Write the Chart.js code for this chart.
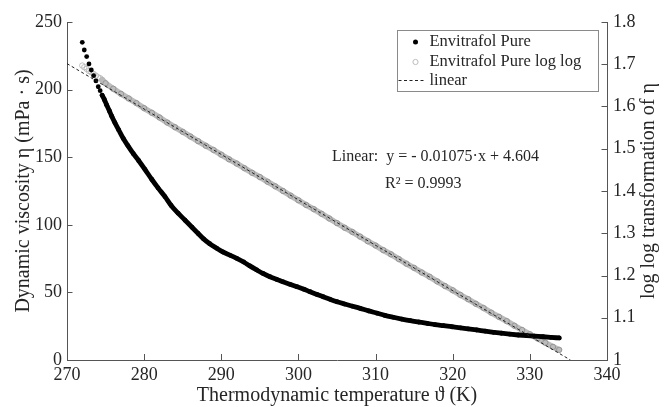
<!DOCTYPE html>
<html><head><meta charset="utf-8">
<script src="https://cdn.jsdelivr.net/npm/chart.js@4.4.1/dist/chart.umd.min.js"></script>
<style>html,body{margin:0;padding:0;background:#fff;}#wrap{width:669px;height:407px;}</style>
</head><body><div id="wrap"><canvas id="c" width="669" height="407"></canvas></div>
<script>
// ---- data ----
const temperature = [271.98,272.24,272.55,272.85,273.15,273.45,273.75,274.05,274.30,274.56,
  274.85,275.15,275.5,275.8,276.2,276.7,277.3,277.9,278.6,279.3,280.1,281.0,281.8,282.7,283.5,284.4,
  285.3,286.2,287.0,287.7,288.5,289.4,290.2,291.1,292.0,292.9,293.7,294.6,295.4,296.3,297.2,298.0,
  298.9,299.8,300.7,301.5,302.4,303.2,304.1,305.0,306.0,307.0,308.0,309.1,310.2,311.2,312.3,313.4,
  314.5,315.6,316.7,317.7,318.8,319.9,321.0,322.0,323.1,324.2,325.3,326.3,327.4,328.5,329.6,330.6,
  331.7,332.7,333.8];
const viscosity = [235.0,229.3,224.4,219.0,214.5,210.3,206.4,202.1,199.2,195.8,
  192.5,188.5,184.2,180.3,175.6,170.2,163.8,158.5,152.6,147.4,141.0,133.5,127.3,120.8,114.3,108.6,
  103.4,98.2,93.6,89.6,86.0,82.7,79.9,77.6,75.2,72.5,69.6,66.6,64.0,61.6,59.6,57.8,
  56.0,54.2,52.4,50.5,48.5,46.8,44.9,43.1,41.4,39.8,38.2,36.3,34.6,33.0,31.6,30.3,
  29.1,28.1,27.1,26.2,25.4,24.6,23.8,23.0,22.2,21.3,20.5,19.8,19.1,18.5,18.0,17.6,
  17.2,16.8,16.3];
const logTemperature = [271.98,272.24,272.55,272.85,273.15,273.45,273.75,274.05,274.30,274.56,
  275,276,277,278,279,280,281,282,283,284,285,286,287,288,289,290,291,292,293,294,295,296,297,298,299,
  300,301,302,303,304,305,306,307,308,309,310,311,312,313,314,315,316,317,318,319,320,321,322,323,324,
  325,326,327,328,329,330,331,332,333,333.8];
const logLogValues = [1.697,1.693,1.689,1.684,1.681,1.677,1.673,1.669,1.667,1.663,
  1.655,1.642,1.630,1.619,1.608,1.596,1.585,1.574,1.562,1.551,1.540,1.529,1.518,1.507,1.497,1.486,
  1.475,1.465,1.454,1.443,1.433,1.422,1.411,1.400,1.389,1.378,1.367,1.357,1.346,1.335,1.324,1.313,
  1.303,1.292,1.281,1.271,1.260,1.250,1.239,1.228,1.218,1.207,1.197,1.186,1.175,1.165,1.154,1.144,
  1.133,1.123,1.112,1.102,1.092,1.081,1.071,1.061,1.051,1.041,1.031,1.024];
const linearX = [270, 335.26];
const linearY = [1.7015, 1.0];
const xTicks = [270,280,290,300,310,320,330,340];
const yLeftTicks = [0,50,100,150,200,250];
const yRightTicks = [1,1.1,1.2,1.3,1.4,1.5,1.6,1.7,1.8];
const yRightTickLabels = ['1','1.1','1.2','1.3','1.4','1.5','1.6','1.7','1.8'];
const seriesLabels = ['Envitrafol Pure','Envitrafol Pure log log','linear'];
const xTitle = 'Thermodynamic temperature \u03D1 (K)';
const yLeftTitle = 'Dynamic viscosity \u03B7 (mPa \u00B7 s)';
const yRightTitle = 'log log transformation of \u03B7';
const fitLines = ['Linear:  y = - 0.01075\u00B7x + 4.604', 'R\u00B2 = 0.9993'];
const SPARSE = 10; // sparse leading measurement points

// ---- style ----
const SERIF = '"Liberation Serif", "Times New Roman", serif';
const TXT = '#262626';
const AX = '#555';

const headGap = ctx => (ctx.p1DataIndex < SPARSE ? 'rgba(0,0,0,0)' : undefined);
const noGrid = {display: false, drawTicks: false, tickLength: 0};

const ticksPlugin = {
  id: 'innerTicks',
  afterDraw(chart) {
    const {ctx, chartArea: a, scales} = chart;
    ctx.save();
    ctx.strokeStyle = AX; ctx.lineWidth = 1;
    ctx.beginPath();
    xTicks.forEach(v => { const p = Math.round(scales.x.getPixelForValue(v)) + 0.5; ctx.moveTo(p, a.bottom); ctx.lineTo(p, a.bottom - 6); });
    yLeftTicks.forEach(v => { const p = Math.round(scales.y.getPixelForValue(v)) + 0.5; ctx.moveTo(a.left, p); ctx.lineTo(a.left + 5.5, p); });
    yRightTicks.forEach(v => { const p = Math.round(scales.y2.getPixelForValue(v)) + 0.5; ctx.moveTo(a.right, p); ctx.lineTo(a.right - 5.5, p); });
    ctx.stroke();

    // right axis title (reads bottom to top)
    ctx.fillStyle = TXT;
    ctx.font = '20px ' + SERIF;
    ctx.textAlign = 'center'; ctx.textBaseline = 'middle';
    ctx.translate(649, (a.top + a.bottom) / 2);
    ctx.rotate(-Math.PI / 2);
    ctx.fillText(yRightTitle, 0, 0);
    ctx.restore();

    // fit annotation
    ctx.save();
    ctx.fillStyle = TXT;
    ctx.font = '16px ' + SERIF;
    ctx.textAlign = 'left'; ctx.textBaseline = 'middle';
    ctx.fillText(fitLines[0], a.left + 265, a.top + 135);
    ctx.fillText(fitLines[1], a.left + 318, a.top + 162);
    ctx.restore();

    // legend
    const ds = chart.data.datasets;
    const bx = a.right - 209.5, by = a.top + 8.5, bw = 201, bh = 61;
    ctx.save();
    ctx.fillStyle = '#fff'; ctx.fillRect(bx, by, bw, bh);
    ctx.strokeStyle = '#8a8a8a'; ctx.lineWidth = 1; ctx.strokeRect(bx, by, bw, bh);
    ctx.font = '16.5px ' + SERIF; ctx.textBaseline = 'middle'; ctx.textAlign = 'left';
    const rows = [by + 11.5, by + 31.5, by + 50];
    const tx = bx + 32, mx = bx + 18;
    ctx.beginPath(); ctx.arc(mx, rows[0], 2.5, 0, Math.PI * 2); ctx.fillStyle = '#000'; ctx.fill();
    ctx.beginPath(); ctx.arc(mx, rows[1], 2.6, 0, Math.PI * 2); ctx.strokeStyle = '#bdbdbd'; ctx.stroke();
    ctx.beginPath(); ctx.setLineDash([3, 2.5]); ctx.strokeStyle = '#222'; ctx.moveTo(bx + 1, rows[2]); ctx.lineTo(bx + 27, rows[2]); ctx.stroke(); ctx.setLineDash([]);
    ctx.fillStyle = TXT;
    ds.forEach((d, i) => ctx.fillText(d.label, tx, rows[i]));
    ctx.restore();
  }
};

const chart = new Chart(document.getElementById('c'), {
  type: 'scatter',
  data: {
    datasets: [
      {
        label: seriesLabels[0],
        data: temperature.map((t, i) => ({x: t, y: viscosity[i]})),
        yAxisID: 'y',
        showLine: true,
        borderColor: '#000',
        borderWidth: 4.8,
        borderCapStyle: 'round',
        borderJoinStyle: 'round',
        cubicInterpolationMode: 'monotone',
        segment: {borderColor: headGap},
        pointRadius: 2.4,
        pointBackgroundColor: '#000',
        pointBorderWidth: 0,
        order: 1
      },
      {
        label: seriesLabels[1],
        data: logTemperature.map((t, i) => ({x: t, y: logLogValues[i]})),
        yAxisID: 'y2',
        showLine: true,
        borderColor: '#bcbcbc',
        borderWidth: 5.8,
        borderCapStyle: 'round',
        segment: {borderColor: headGap},
        pointRadius: 2.7,
        pointBackgroundColor: 'rgba(255,255,255,0)',
        pointBorderColor: ctx => (ctx.dataIndex < SPARSE ? '#b8b8b8' : '#929292'),
        pointBorderWidth: 0.9,
        order: 2
      },
      {
        label: seriesLabels[2],
        data: linearX.map((t, i) => ({x: t, y: linearY[i]})),
        yAxisID: 'y2',
        showLine: true,
        borderColor: '#222',
        borderWidth: 1,
        borderDash: [3, 2.5],
        pointRadius: 0,
        order: 0
      }
    ]
  },
  options: {
    responsive: false,
    animation: false,
    devicePixelRatio: 1,
    layout: {padding: {top: 22, left: 0, right: 0, bottom: 0}},
    plugins: {legend: {display: false}, tooltip: {enabled: false}},
    scales: {
      x: {
        type: 'linear', position: 'bottom', min: 270, max: 340,
        afterBuildTicks: s => { s.ticks = xTicks.map(v => ({value: v})); },
        afterFit: s => { s.height = 47; },
        ticks: {font: {family: SERIF, size: 18}, color: TXT, padding: 4, maxRotation: 0, autoSkip: false},
        grid: noGrid,
        border: {display: true, color: AX},
        title: {display: true, text: xTitle, color: TXT, font: {family: SERIF, size: 20}, padding: {top: 0, bottom: -1}}
      },
      y: {
        type: 'linear', position: 'left', min: 0, max: 250,
        afterBuildTicks: s => { s.ticks = yLeftTicks.map(v => ({value: v})); },
        afterFit: s => { s.width = 67; },
        ticks: {font: {family: SERIF, size: 18}, color: TXT, padding: 5},
        grid: noGrid,
        border: {display: true, color: AX},
        title: {display: true, text: yLeftTitle, color: TXT, font: {family: SERIF, size: 20}, padding: {top: 12, bottom: 0}}
      },
      y2: {
        type: 'linear', position: 'right', min: 1, max: 1.8,
        afterBuildTicks: s => { s.ticks = yRightTicks.map(v => ({value: v})); },
        afterFit: s => { s.width = 62; },
        ticks: {font: {family: SERIF, size: 18}, color: TXT, padding: 6,
          callback: (v, i) => yRightTickLabels[i]},
        grid: noGrid,
        border: {display: true, color: AX}
      }
    }
  },
  plugins: [ticksPlugin]
});
</script></body></html>
